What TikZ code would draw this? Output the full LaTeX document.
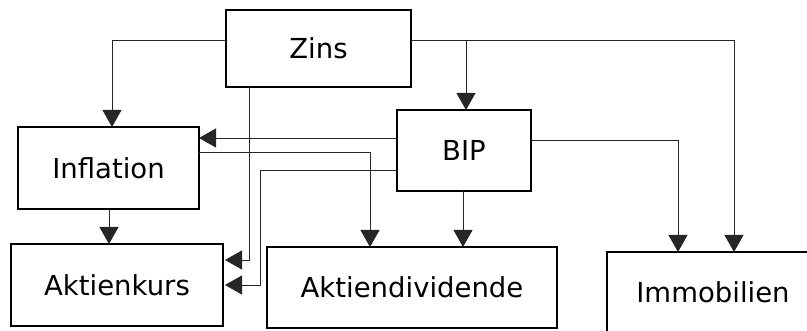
\documentclass[tikz,border=0pt]{standalone}
\usepackage{fontspec}
\setmainfont{DejaVu Sans}
\usetikzlibrary{arrows.meta}
\begin{document}
\begin{tikzpicture}[x=1pt,y=-1pt,
  box/.style={draw=black,line width=1.8pt,inner sep=0pt,outer sep=0pt,
    font=\fontsize{27.5}{33}\selectfont},
  arr/.style={draw=black!85,line width=0.9pt,-{Triangle[width=19pt,length=17pt]}}]
\useasboundingbox (0,0) rectangle (807,331);
\node[box,minimum width=185pt,minimum height=77pt] (zins) at (318.5,48.5) {Zins};
\node[box,minimum width=134pt,minimum height=81pt] (bip) at (464,150.5) {BIP};
\node[box,minimum width=181pt,minimum height=82pt] (infl) at (108.5,168) {Inflation};
\node[box,minimum width=212pt,minimum height=82pt] (akurs) at (117,285) {Aktienkurs};
\node[box,minimum width=290pt,minimum height=81pt] (adiv) at (412,287.5) {Aktiendividende};
\node[box,minimum width=212pt,minimum height=81pt] (immo) at (713,292.5) {Immobilien};
\coordinate (zb) at (466,40);
% Zins connectors
\draw[arr] (zins.west |- 0,40) -| (112,0 |- infl.north);
\draw[arr] (zins.east |- 0,40) -| (734,0 |- immo.north);
\draw[arr] (zb) -- (466,0 |- bip.north);
\draw[arr,shorten >=2pt] (249,0 |- zins.south) |- (akurs.east |- 0,260);
% BIP connectors
\draw[arr] (bip.west |- 0,138) -- (infl.east |- 0,138);
\draw[arr,shorten >=2pt] (bip.west |- 0,170) -| (260,285) -- (akurs.east |- 0,285);
\draw[arr] (463,0 |- bip.south) -- (463,0 |- adiv.north);
\draw[arr] (bip.east |- 0,140) -| (678,0 |- immo.north);
% Inflation connectors
\draw[arr] (infl.east |- 0,152) -| (370,0 |- adiv.north);
\draw[arr] (109,0 |- infl.south) -- (109,0 |- akurs.north);
\end{tikzpicture}
\end{document}
